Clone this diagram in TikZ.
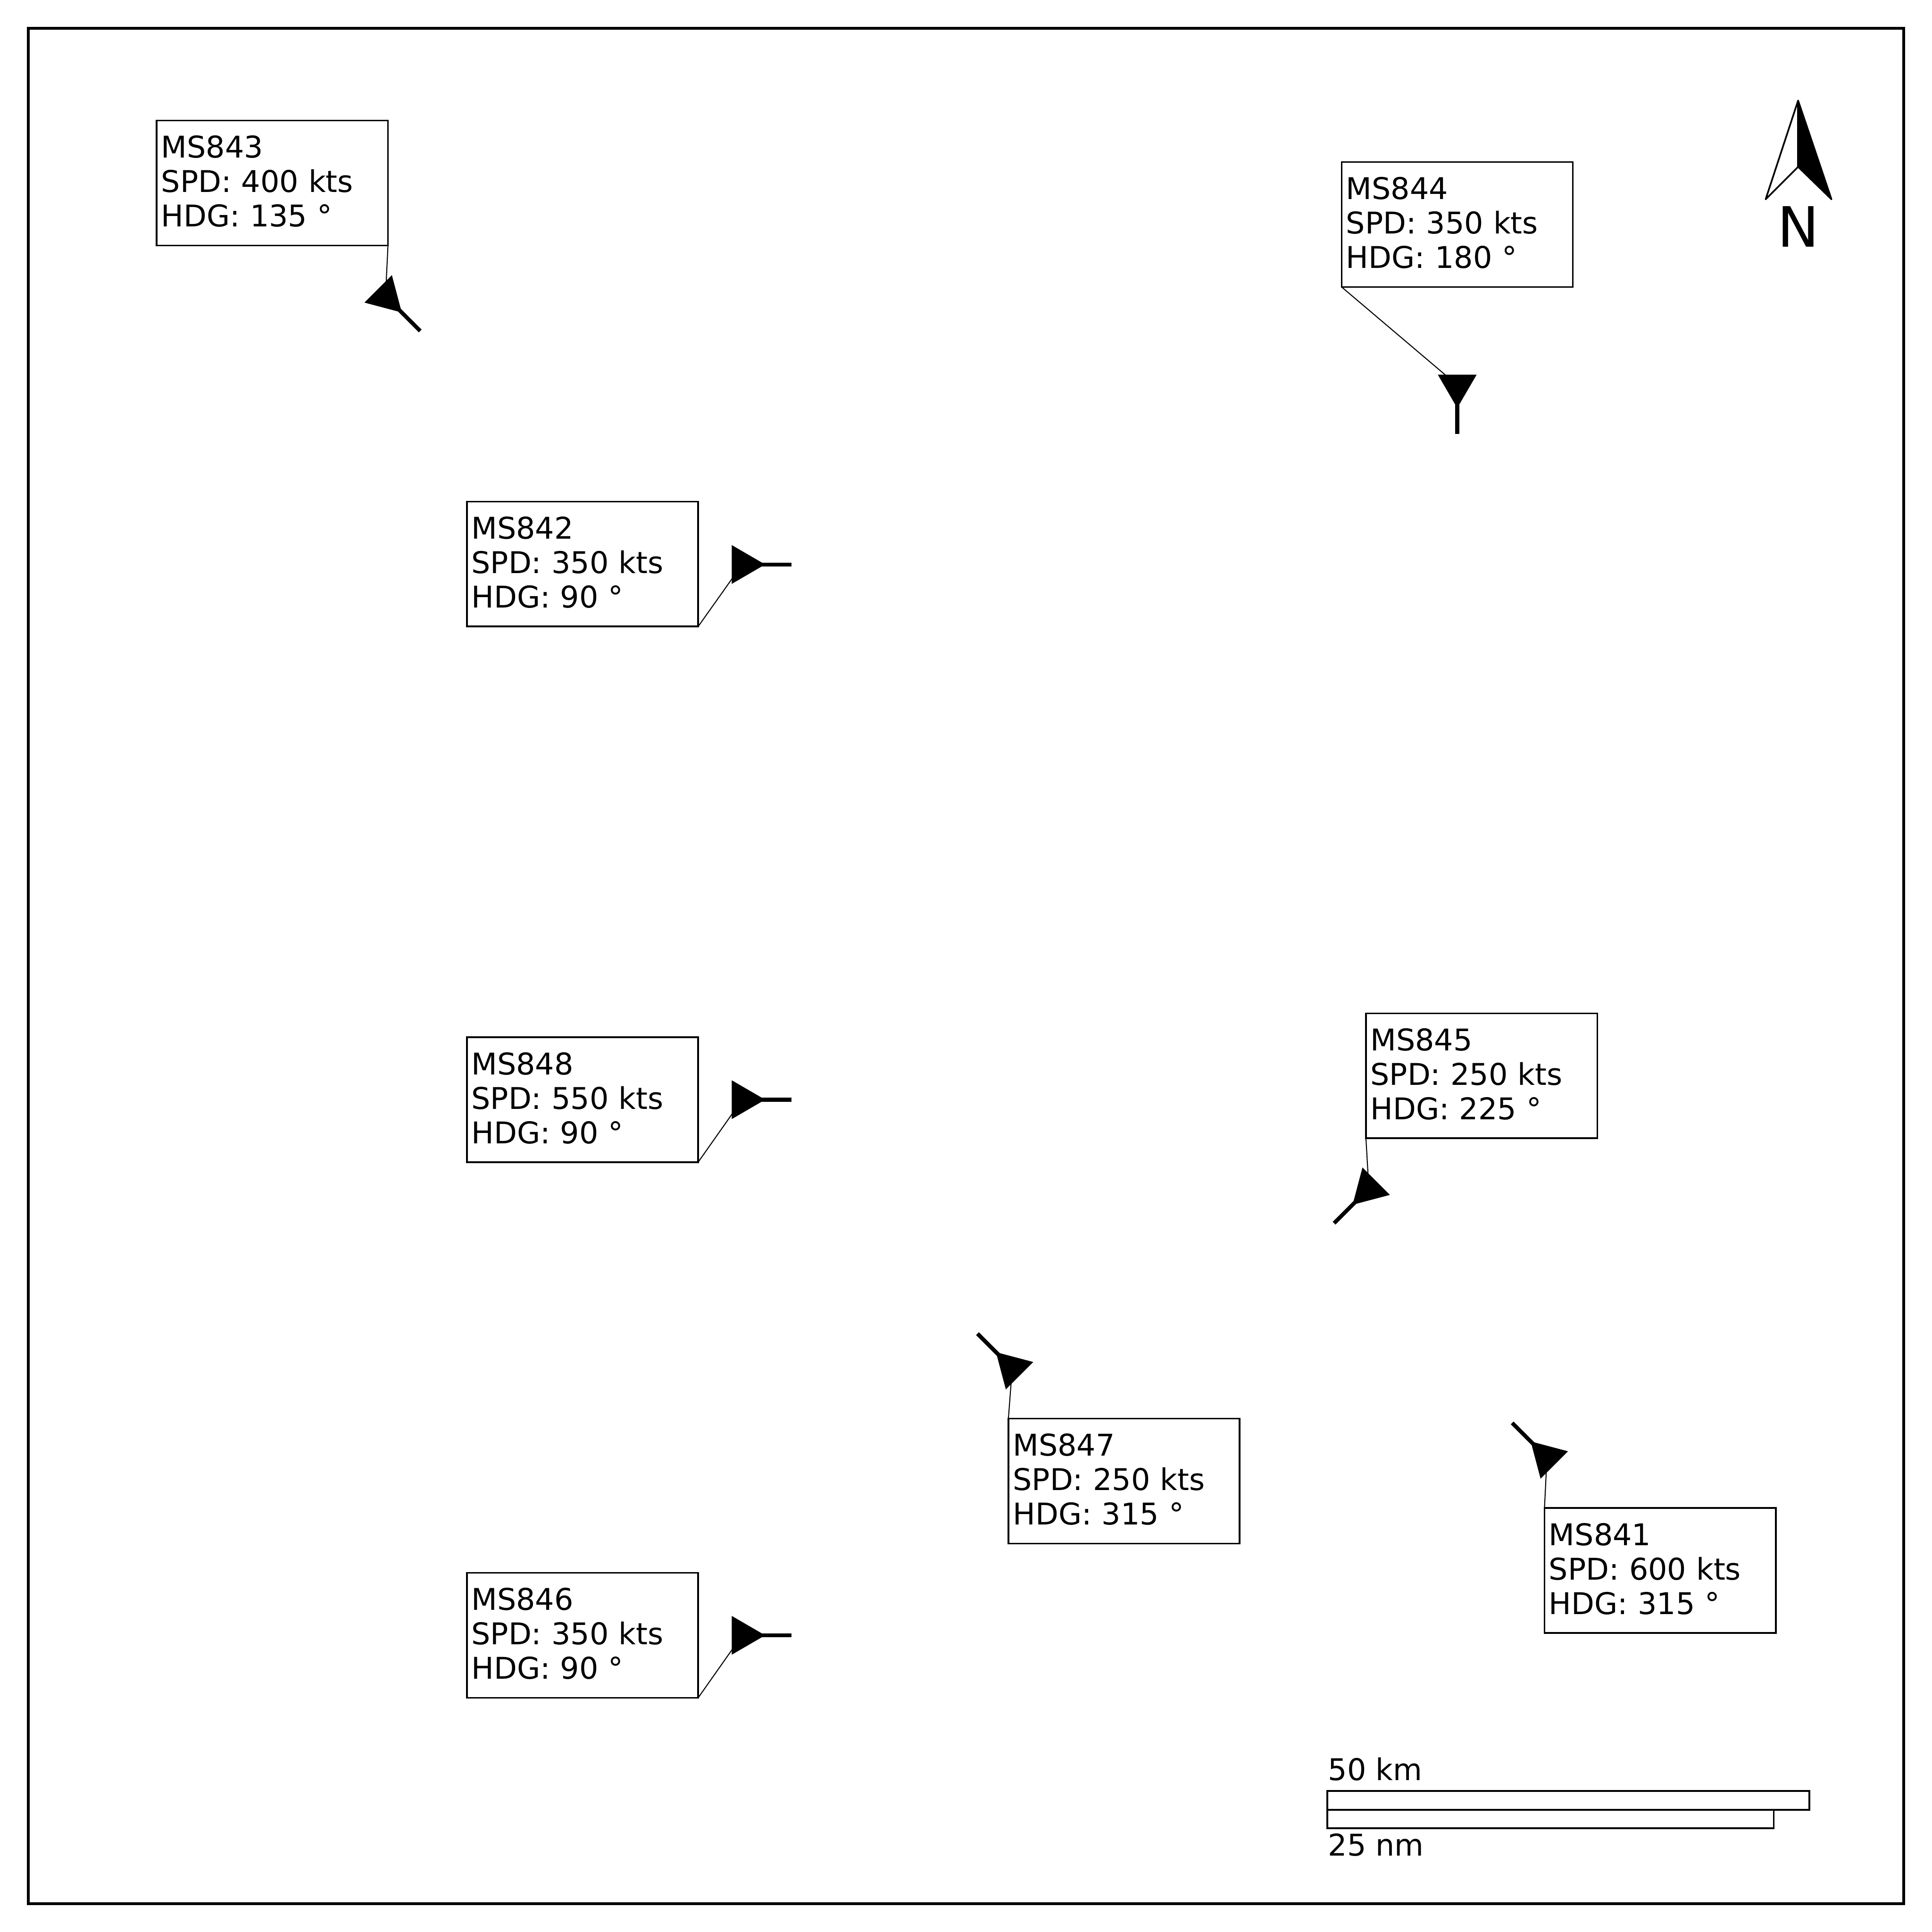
\documentclass[tikz,border=0pt]{standalone}
\usepackage{fontspec}
\setmainfont{DejaVu Sans}
\usetikzlibrary{positioning}

\begin{document}
\begin{tikzpicture}[
    font=\fontsize{18.9}{21.7}\selectfont,
    labelbox/.style={draw, rectangle, line width=0.037cm, outer sep=0pt, inner xsep=0.10cm, inner ysep=0pt,
        text width=4.93cm, minimum height=2.77cm, align=left, execute at end node={\rule[-0.08cm]{0pt}{0pt}}},
    leader/.style={line width=0.022cm},
    scalebar/.style={draw, rectangle, line width=0.037cm, inner sep=0pt},
    scaletext/.style={inner sep=0pt, anchor=base west},
    plane/.pic={
        \fill (-0.23,0.43) -- (0.51,0) -- (-0.23,-0.43) -- cycle;
        \draw[line width=0.087cm] (0.4,0) -- (1.09,0);
    }
]
\useasboundingbox (0,0) rectangle (42.85,42.85);

% Frame
\node[draw, rectangle, line width=0.065cm, minimum size=41.59cm, inner sep=0pt] (frame) at (21.425,21.425) {};

% Aircraft positions
\coordinate (p841) at (34.31,10.52);
\coordinate (p842) at (16.46,30.33);
\coordinate (p843) at (8.55,36.28);
\coordinate (p844) at (32.32,34.31);
\coordinate (p845) at (30.36,16.49);
\coordinate (p846) at (16.46,6.58);
\coordinate (p847) at (22.45,12.50);
\coordinate (p848) at (16.46,18.46);

% Data blocks
\node[labelbox] (ms841) at (36.82,8.02) {MS841\\SPD: 600 kts\\HDG: 315 °};
\node[labelbox] (ms842) at (12.92,30.34) {MS842\\SPD: 350 kts\\HDG: 90 °};
\node[labelbox] (ms843) at (6.04,38.79) {MS843\\SPD: 400 kts\\HDG: 135 °};
\node[labelbox] (ms844) at (32.32,37.87) {MS844\\SPD: 350 kts\\HDG: 180 °};
\node[labelbox] (ms845) at (32.86,18.99) {MS845\\SPD: 250 kts\\HDG: 225 °};
\node[labelbox] (ms846) at (12.92,6.58) {MS846\\SPD: 350 kts\\HDG: 90 °};
\node[labelbox] (ms847) at (24.93,10.00) {MS847\\SPD: 250 kts\\HDG: 315 °};
\node[labelbox] (ms848) at (12.92,18.46) {MS848\\SPD: 550 kts\\HDG: 90 °};

% Leader lines
\draw[leader] (ms841.north west) -- (p841);
\draw[leader] (ms842.south east) -- (p842);
\draw[leader] (ms843.south east) -- (p843);
\draw[leader] (ms844.south west) -- (p844);
\draw[leader] (ms845.south west) -- (p845);
\draw[leader] (ms846.south east) -- (p846);
\draw[leader] (ms847.north west) -- (p847);
\draw[leader] (ms848.south east) -- (p848);

% Aircraft symbols
\pic[rotate=-225] at (p841) {plane};
\pic[rotate=0] at (p842) {plane};
\pic[rotate=-45] at (p843) {plane};
\pic[rotate=-90] at (p844) {plane};
\pic[rotate=-135] at (p845) {plane};
\pic[rotate=0] at (p846) {plane};
\pic[rotate=-225] at (p847) {plane};
\pic[rotate=0] at (p848) {plane};

% North arrow
\coordinate (tip) at (39.88,40.62);
\coordinate (notch) at (39.88,39.15);
\coordinate (westwing) at (39.16,38.43);
\coordinate (eastwing) at (40.62,38.43);
\fill (tip) -- (eastwing) -- (notch) -- cycle;
\draw[line width=0.037cm, line join=round] (tip) -- (westwing) -- (notch) -- (eastwing) -- cycle;
\draw[line width=0.037cm] (tip) -- (notch);
\node[anchor=base, inner sep=0pt, font=\fontsize{35.1}{40}\selectfont] (north) at (39.88,37.37) {N};

% Scale bars
\node[scalebar, minimum width=10.69cm, minimum height=0.42cm] (kmbar) at (34.785,2.92) {};
\node[scalebar, minimum width=9.90cm, minimum height=0.41cm] (nmbar) at (34.39,2.505) {};
\node[scaletext] (kmtext) at (29.45,3.36) {50 km};
\node[scaletext] (nmtext) at (29.45,1.69) {25 nm};

\end{tikzpicture}
\end{document}
